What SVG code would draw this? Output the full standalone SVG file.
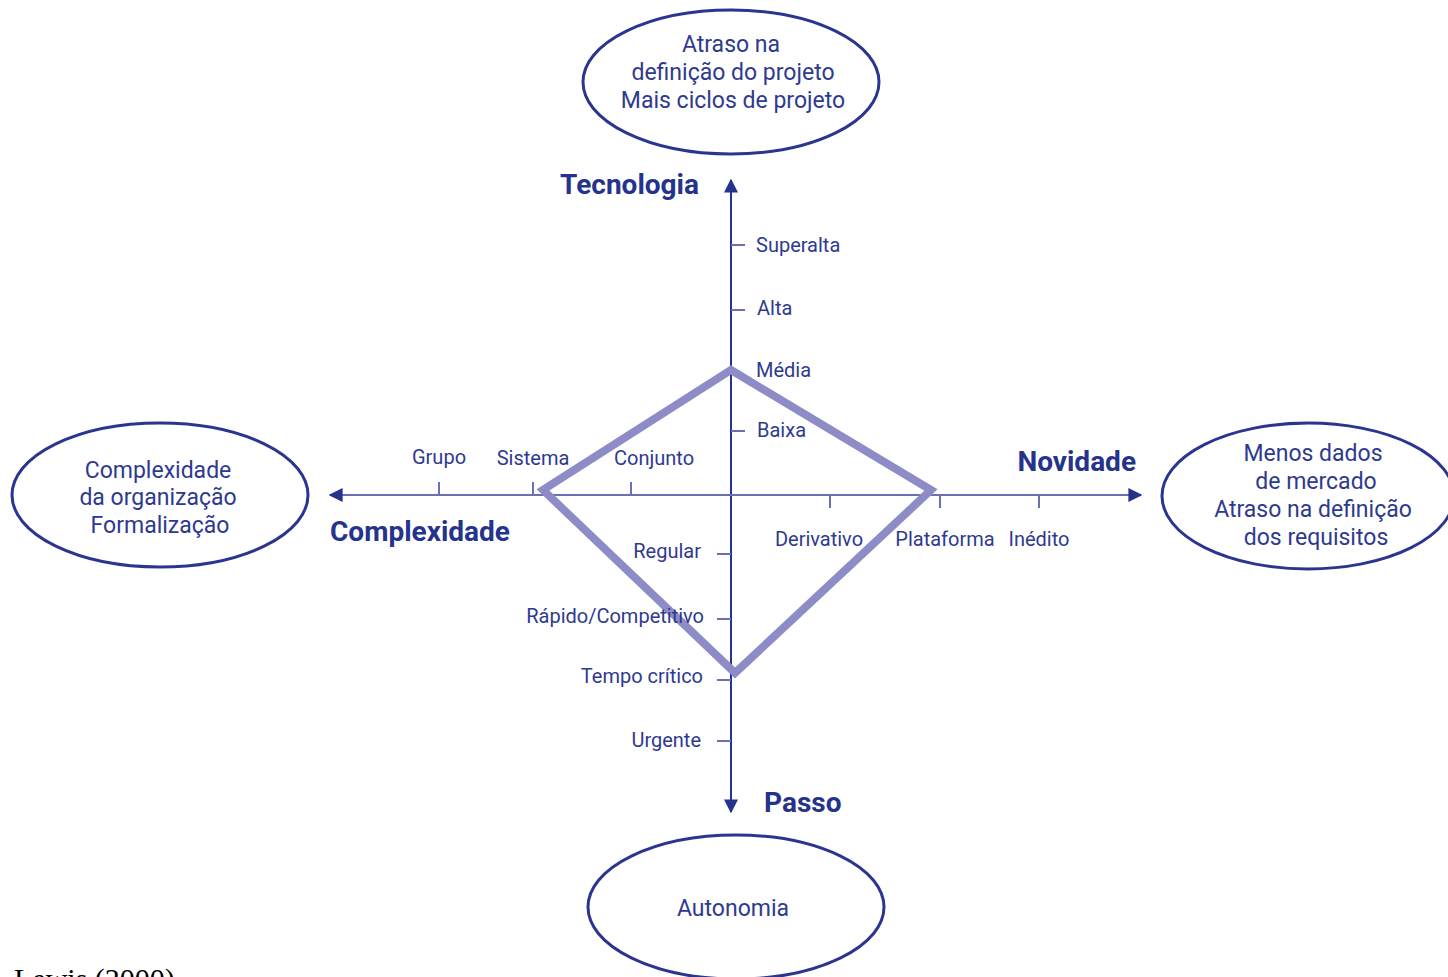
<svg xmlns="http://www.w3.org/2000/svg" width="1448" height="977" viewBox="0 0 1448 977">
  <style>
    .bg { fill: #ffffff; }
    .ell { fill: none; stroke: #2b3590; stroke-width: 3; }
    .etxt { font-family: Roboto, "Liberation Sans", sans-serif; font-size: 23px; fill: #2e3a8f; text-anchor: middle; }
    .lbl { font-family: Roboto, "Liberation Sans", sans-serif; font-size: 20px; fill: #2e3a8f; }
    .axt { font-family: Roboto, "Liberation Sans", sans-serif; font-size: 28px; font-weight: bold; fill: #26338c; }
    .vaxis { stroke: #26338c; stroke-width: 2; fill: none; }
    .haxis { stroke: #6a70b4; stroke-width: 2; fill: none; }
    .tick { stroke: #6a70b4; stroke-width: 2; }
    .diamond { fill: none; stroke: #8e8cc6; stroke-width: 8; stroke-linejoin: miter; }
    .src { font-family: "Liberation Serif", serif; font-size: 30px; fill: #000000; }
  </style>
  <defs>
    <marker id="arrow" viewBox="0 0 10 10" refX="9" refY="5" markerWidth="14" markerHeight="14" markerUnits="userSpaceOnUse" orient="auto">
      <path d="M0,0 L10,5 L0,10 z" fill="#26338c"/>
    </marker>
  </defs>
  <rect class="bg" width="1448" height="977"/>

  <!-- axes, ticks and the project profile -->
  <g id="connectors">
    <line class="vaxis" x1="731" y1="495" x2="731" y2="180" marker-end="url(#arrow)"/>
    <line class="vaxis" x1="731" y1="495" x2="731" y2="812" marker-end="url(#arrow)"/>
    <line class="haxis" x1="731" y1="495" x2="1141" y2="495" marker-end="url(#arrow)"/>
    <line class="haxis" x1="731" y1="495" x2="330" y2="495" marker-end="url(#arrow)"/>

    <!-- tecnologia ticks -->
    <line class="tick" x1="731" y1="245" x2="745" y2="245"/>
    <line class="tick" x1="731" y1="310" x2="745" y2="310"/>
    <line class="tick" x1="731" y1="431" x2="745" y2="431"/>
    <!-- passo ticks -->
    <line class="tick" x1="717" y1="554" x2="731" y2="554"/>
    <line class="tick" x1="717" y1="619" x2="731" y2="619"/>
    <line class="tick" x1="717" y1="680" x2="731" y2="680"/>
    <line class="tick" x1="717" y1="741" x2="731" y2="741"/>
    <!-- complexidade ticks -->
    <line class="tick" x1="439" y1="482" x2="439" y2="495"/>
    <line class="tick" x1="533" y1="482" x2="533" y2="495"/>
    <line class="tick" x1="631" y1="482" x2="631" y2="495"/>
    <!-- novidade ticks -->
    <line class="tick" x1="830" y1="495" x2="830" y2="508"/>
    <line class="tick" x1="940" y1="495" x2="940" y2="508"/>
    <line class="tick" x1="1039" y1="495" x2="1039" y2="508"/>

    <polygon class="diamond" points="731,370 931,490 735,673 543,490"/>
  </g>

  <!-- scale labels -->
  <g id="scale-labels">
    <text class="lbl" x="756" y="252">Superalta</text>
    <text class="lbl" x="757" y="315">Alta</text>
    <text class="lbl" x="756" y="377">Média</text>
    <text class="lbl" x="757" y="437">Baixa</text>

    <text class="lbl" x="439" y="464" text-anchor="middle">Grupo</text>
    <text class="lbl" x="533" y="465" text-anchor="middle">Sistema</text>
    <text class="lbl" x="654" y="465" text-anchor="middle">Conjunto</text>

    <text class="lbl" x="819" y="546" text-anchor="middle">Derivativo</text>
    <text class="lbl" x="945" y="546" text-anchor="middle">Plataforma</text>
    <text class="lbl" x="1039" y="546" text-anchor="middle">Inédito</text>

    <text class="lbl" x="701" y="558" text-anchor="end">Regular</text>
    <text class="lbl" x="704" y="623" text-anchor="end">Rápido/Competitivo</text>
    <text class="lbl" x="703" y="683" text-anchor="end">Tempo crítico</text>
    <text class="lbl" x="701" y="747" text-anchor="end">Urgente</text>
  </g>

  <!-- axis titles -->
  <g id="axis-titles">
    <text class="axt" x="699" y="194" text-anchor="end">Tecnologia</text>
    <text class="axt" x="1136" y="471" text-anchor="end">Novidade</text>
    <text class="axt" x="330" y="541">Complexidade</text>
    <text class="axt" x="764" y="812">Passo</text>
  </g>

  <g id="node-tecnologia">
    <ellipse class="ell" cx="731" cy="82" rx="148" ry="72"/>
    <text class="etxt" x="731" y="52">Atraso na</text>
    <text class="etxt" x="733" y="80">definição do projeto</text>
    <text class="etxt" x="733" y="108">Mais ciclos de projeto</text>
  </g>

  <g id="node-complexidade">
    <ellipse class="ell" cx="160" cy="495" rx="148" ry="72"/>
    <text class="etxt" x="158" y="478">Complexidade</text>
    <text class="etxt" x="158" y="505">da organização</text>
    <text class="etxt" x="160" y="533">Formalização</text>
  </g>

  <g id="node-novidade">
    <ellipse class="ell" cx="1308" cy="496" rx="146" ry="73"/>
    <text class="etxt" x="1313" y="461">Menos dados</text>
    <text class="etxt" x="1316" y="489">de mercado</text>
    <text class="etxt" x="1313" y="517">Atraso na definição</text>
    <text class="etxt" x="1316" y="545">dos requisitos</text>
  </g>

  <g id="node-passo">
    <ellipse class="ell" cx="736" cy="907" rx="148" ry="72"/>
    <text class="etxt" x="733" y="916">Autonomia</text>
  </g>

  <text class="src" x="14" y="989">Lewis (2000)</text>
</svg>
